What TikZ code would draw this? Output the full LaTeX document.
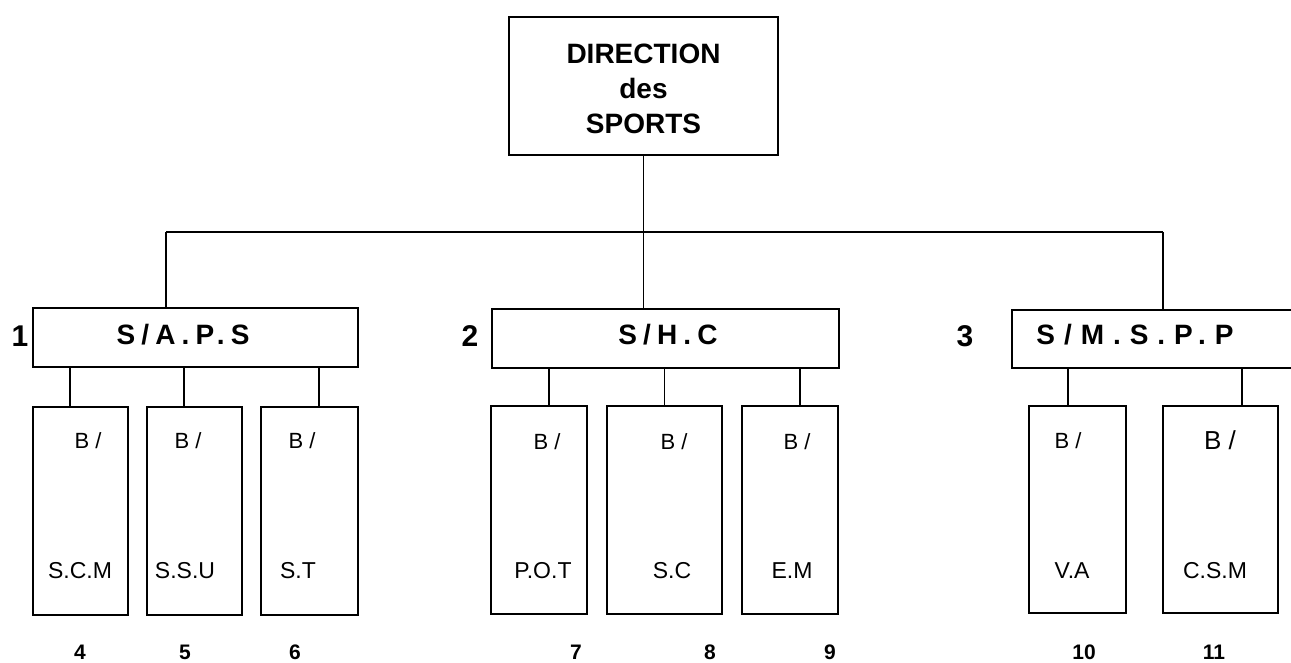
\documentclass[tikz,border=0pt]{standalone}
\usepackage{fontspec}
\setmainfont{Liberation Sans}
\newfontfamily\spacedA[LetterSpace=22]{Liberation Sans}
\newfontfamily\spacedB[LetterSpace=32]{Liberation Sans}
\begin{document}
\begin{tikzpicture}[x=1pt,y=-1pt,
  box/.style={draw,line width=1.3pt,inner sep=0pt},
  conn/.style={line width=1.3pt},
  head/.style={font=\bfseries\fontsize{28}{28}\selectfont,inner sep=0pt},
  numlbl/.style={font=\bfseries\fontsize{30}{30}\selectfont,inner sep=0pt},
  blbl/.style={font=\fontsize{22}{22}\selectfont,inner sep=0pt},
  nlbl/.style={font=\fontsize{23}{23}\selectfont,inner sep=0pt},
  idx/.style={font=\bfseries\fontsize{21}{21}\selectfont,inner sep=0pt}]
\useasboundingbox (0,0) rectangle (1291,663);

% top box
\node[box,minimum width=269pt,minimum height=138pt] (dir) at (643.5,86) {};
\node[align=center,inner sep=0pt,font=\bfseries\fontsize{28}{35}\selectfont] (dirt) at (643.5,89) {DIRECTION\\des\\SPORTS};

% level 2 boxes
\node[box,minimum width=325pt,minimum height=59pt] (b1) at (195.5,337.5) {};
\node[box,minimum width=347pt,minimum height=59pt] (b2) at (665.5,338.5) {};
\node[box,minimum width=290pt,minimum height=58pt] (b3) at (1157,339) {};
\node[head] (b1t) at (183,335) {\spacedA S/A.P.S};
\node[head] (b2t) at (668,335) {\spacedA S/H.C};
\node[head] (b3t) at (1135,335) {\spacedB S/M.S.P.P};
\node[numlbl] (n1) at (20,336) {1};
\node[numlbl] (n2) at (470,336) {2};
\node[numlbl] (n3) at (965,336) {3};

% bus
\coordinate (jl) at (166,232);
\coordinate (jr) at (1163,232);
\draw[conn] (dir.south) -- (dir.south |- b2.north);
\draw[conn] (jl) -- (jr);
\draw[conn] (jl) -- (jl |- b1.north);
\draw[conn] (jr) -- (jr |- b3.north);

% level 3 boxes
\node[box,minimum width=95pt,minimum height=208pt] (s4) at (80.5,511) {};
\node[box,minimum width=95pt,minimum height=208pt] (s5) at (194.5,511) {};
\node[box,minimum width=97pt,minimum height=208pt] (s6) at (309.5,511) {};
\node[box,minimum width=96pt,minimum height=208pt] (s7) at (539,510) {};
\node[box,minimum width=115pt,minimum height=208pt] (s8) at (664.5,510) {};
\node[box,minimum width=96pt,minimum height=208pt] (s9) at (790,510) {};
\node[box,minimum width=97pt,minimum height=207pt] (s10) at (1077.5,509.5) {};
\node[box,minimum width=115pt,minimum height=207pt] (s11) at (1220.5,509.5) {};

\draw[conn] ([xshift=-10.5pt]s4.north) -- ([xshift=-10.5pt]s4.north |- b1.south);
\draw[conn] ([xshift=-10.5pt]s5.north) -- ([xshift=-10.5pt]s5.north |- b1.south);
\draw[conn] ([xshift=9.5pt]s6.north) -- ([xshift=9.5pt]s6.north |- b1.south);
\draw[conn] ([xshift=10pt]s7.north) -- ([xshift=10pt]s7.north |- b2.south);
\draw[conn] (s8.north) -- (s8.north |- b2.south);
\draw[conn] ([xshift=10pt]s9.north) -- ([xshift=10pt]s9.north |- b2.south);
\draw[conn] ([xshift=-9.5pt]s10.north) -- ([xshift=-9.5pt]s10.north |- b3.south);
\draw[conn] ([xshift=21.5pt]s11.north) -- ([xshift=21.5pt]s11.north |- b3.south);

% texts in sub boxes
\node[blbl] (t4b) at (88,441) {B /};
\node[blbl] (t5b) at (188,441) {B /};
\node[blbl] (t6b) at (302,441) {B /};
\node[blbl] (t7b) at (547,442) {B /};
\node[blbl] (t8b) at (674,442) {B /};
\node[blbl] (t9b) at (797,442) {B /};
\node[blbl] (t10b) at (1068,441) {B /};
\node[font=\fontsize{26}{26}\selectfont,inner sep=0pt] (t11b) at (1220,440) {B /};

\node[nlbl] (t4) at (80,571) {S.C.M};
\node[nlbl] (t5) at (185,571) {S.S.U};
\node[nlbl] (t6) at (298,571) {S.T};
\node[nlbl] (t7) at (543,571) {P.O.T};
\node[nlbl] (t8) at (672,571) {S.C};
\node[nlbl] (t9) at (792,571) {E.M};
\node[nlbl] (t10) at (1072,571) {V.A};
\node[nlbl] (t11) at (1215,571) {C.S.M};

\node[idx] (i4) at (80,652) {4};
\node[idx] (i5) at (185,652) {5};
\node[idx] (i6) at (295,652) {6};
\node[idx] (i7) at (576,652) {7};
\node[idx] (i8) at (710,652) {8};
\node[idx] (i9) at (830,652) {9};
\node[idx] (i10) at (1084,652) {10};
\node[idx] (i11) at (1214,652) {11};
\end{tikzpicture}
\end{document}
